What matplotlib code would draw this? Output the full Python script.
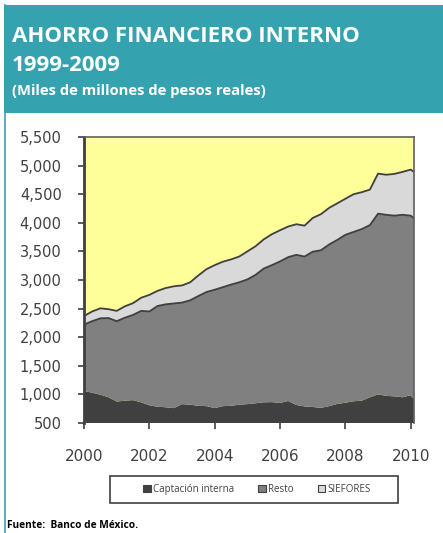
import matplotlib
matplotlib.use("Agg")
import matplotlib.pyplot as plt
from matplotlib.patches import Rectangle, Patch
from matplotlib.lines import Line2D
import numpy as np

# ---- data (quarterly, decimal years) ----
years = [2000.00, 2000.25, 2000.50, 2000.75, 2001.00, 2001.25, 2001.50, 2001.75,
         2002.00, 2002.25, 2002.50, 2002.75, 2003.00, 2003.25, 2003.50, 2003.75,
         2004.00, 2004.25, 2004.50, 2004.75, 2005.00, 2005.25, 2005.50, 2005.75,
         2006.00, 2006.25, 2006.50, 2006.75, 2007.00, 2007.25, 2007.50, 2007.75,
         2008.00, 2008.25, 2008.50, 2008.75, 2009.00, 2009.25, 2009.50, 2009.75,
         2010.00, 2010.10]
captacion = [1060, 1030, 995, 950, 875, 890, 900, 860, 810, 785, 775, 760,
             830, 820, 800, 795, 760, 795, 800, 820, 830, 845, 862, 865,
             850, 885, 815, 790, 780, 765, 795, 833, 855, 880, 890, 950,
             1000, 975, 965, 950, 985, 915]
resto = [1160, 1250, 1335, 1385, 1405, 1450, 1490, 1600, 1640, 1760, 1800, 1830,
         1775, 1825, 1920, 1995, 2070, 2080, 2120, 2140, 2180, 2245, 2338, 2395,
         2475, 2515, 2625, 2620, 2715, 2755, 2825, 2867, 2935, 2960, 3000, 3010,
         3160, 3165, 3160, 3190, 3140, 3165]
siefores = [150, 170, 175, 155, 180, 200, 205, 230, 290, 265, 285, 300,
            300, 315, 360, 400, 430, 445, 440, 450, 490, 500, 510, 540,
            545, 535, 535, 540, 590, 630, 640, 640, 630, 660, 645, 620,
            700, 700, 730, 750, 805, 810]
series_names = ["Captación interna", "Resto", "SIEFORES"]
series_colors = ["#404040", "#808080", "#d9d9d9"]
yticks = [500, 1000, 1500, 2000, 2500, 3000, 3500, 4000, 4500, 5000, 5500]
xticks = [2000, 2002, 2004, 2006, 2008, 2010]

title1 = "AHORRO FINANCIERO INTERNO"
title2 = "1999-2009"
subtitle = "(Miles de millones de pesos reales)"
source = "Fuente:  Banco de México."

FONT = "Open Sans"
TICKFONT = "DejaVu Sans"
teal = "#35a2b0"

fig = plt.figure(figsize=(4.43, 5.33), dpi=100)
W, H = 443, 533

# header box
fig.patches.append(Rectangle((4 / W, 1 - 113 / H), (W - 4) / W, 108 / H,
                             transform=fig.transFigure, facecolor=teal,
                             edgecolor="none", zorder=0))
# left border line
fig.add_artist(Line2D([4.5 / W, 4.5 / W], [0, 1 - 5 / H], transform=fig.transFigure,
                      color=teal, lw=1.2))

fig.text(12 / W, 1 - 36 / H, title1, color="white", fontsize=16, fontweight="bold",
         family=FONT, va="center", ha="left")
fig.text(12 / W, 1 - 66 / H, title2, color="white", fontsize=16, fontweight="bold",
         family=FONT, va="center", ha="left")
fig.text(12 / W, 1 - 91 / H, subtitle, color="white", fontsize=10.6, fontweight="bold",
         family=FONT, va="center", ha="left")
fig.text(7 / W, 1 - 525 / H, source, color="black", fontsize=7.3, fontweight="bold",
         family=FONT, va="center", ha="left")

ax = fig.add_axes([84 / W, 1 - 423 / H, (414 - 84) / W, (423 - 137) / H])
ax.set_facecolor("#ffff99")
x = np.array(years)
c = np.array(captacion)
r = np.array(resto)
s = np.array(siefores)
ax.stackplot(x, c, r, s, colors=series_colors, labels=series_names, lw=0, zorder=1)
ax.plot(x, c + r, color="#404040", lw=1.3, zorder=2)
ax.plot(x, c + r + s, color="#404040", lw=1.3, zorder=2)

ax.set_xlim(2000, 2010.1)
ax.set_ylim(500, 5500)
ax.set_yticks(yticks)
ax.set_yticklabels([f"{v:,}" for v in yticks], family=TICKFONT)
ax.set_xticks(xticks)
ax.set_xticklabels([str(v) for v in xticks], family=TICKFONT)
ax.tick_params(axis="y", direction="out", length=4, width=1.2, color="#404040",
               labelsize=10.5, labelcolor="#404040", pad=12)
ax.tick_params(axis="x", direction="out", length=4, width=1.2, color="#404040",
               labelsize=11, labelcolor="#404040", pad=15)
ax.spines["left"].set_color("#404040")
ax.spines["left"].set_linewidth(2)
ax.spines["bottom"].set_visible(False)
for sp in ("top", "right"):
    ax.spines[sp].set_color("#606060")
    ax.spines[sp].set_linewidth(1.2)

# legend box and entries
fig.patches.append(Rectangle((110 / W, 1 - 503 / H), 288 / W, 27 / H,
                             transform=fig.transFigure, facecolor="white",
                             edgecolor="#404040", lw=1.2, zorder=1))
handles = [Patch(facecolor=col, edgecolor="#404040", lw=0.8) for col in series_colors]
leg = fig.legend(handles, series_names, loc="center",
                 bbox_to_anchor=(257 / W, 1 - 489.5 / H), ncol=3, frameon=False,
                 handlelength=0.8, handleheight=0.8, handletextpad=0.25,
                 columnspacing=2.45, borderpad=0.3, prop={"family": FONT, "size": 7})
leg.set_zorder(3)
for t in leg.get_texts():
    t.set_color("#404040")

fig.savefig("out.png", dpi=100)
